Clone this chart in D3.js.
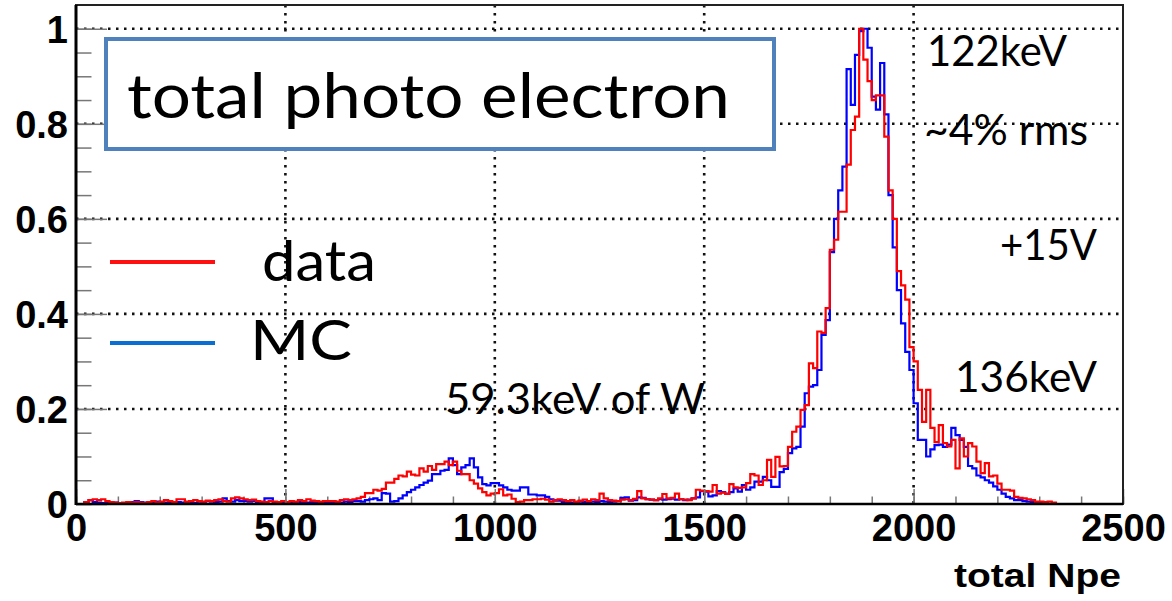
<!DOCTYPE html>
<html>
<head>
<meta charset="utf-8">
<script src="https://cdn.jsdelivr.net/npm/d3@7"></script>
<style>
  body { margin: 0; background: #fff; }
  svg { display: block; }
  .tick text { font-family: "Liberation Sans", Arial, sans-serif; font-weight: bold; fill: #000; }
  .note { font-family: Lato, "Open Sans", sans-serif; fill: #000; }
</style>
</head>
<body>
<div id="chart"></div>
<script>
// bin width of both histograms (total Npe)
var binWidth = 10;

// data (red), bins 0..2490
var dataCounts = [
  0,0,.004,.008,.01,.008,.01,.006,.004,.003, .002,.003,.004,.003,.004,.003,.002,.004,.006,.003,
  .005,.008,.006,.004,.01,.01,.005,.006,.008,.006, .005,.007,.006,.008,.01,.006,.005,.012,.014,.012,
  .01,.008,.009,.006,.005,.004,.006,.005,.004,.006, .004,.006,.005,.008,.006,.01,.007,.006,.005,.006,
  .006,.006,.005,.008,.01,.008,.01,.012,.015,.023, .023,.03,.028,.032,.045,.045,.053,.06,.058,.068,
  .062,.06,.075,.068,.08,.072,.084,.084,.089,.082, .089,.07,.063,.063,.05,.043,.033,.025,.018,.022,
  .023,.031,.018,.02,.011,.004,.005,.008,.008,.01, .01,.011,.009,.005,.008,.01,
  .008,.006,.008,.005,.007,.009,.006,.01,.008,.022, .012,.008,.007,.006,.009,.01,.008,.011,.027,.012,
  .01,.009,.008,.012,.021,.012,.013,.022,.01,.009, .008,.012,.03,.028,.027,.026,.04,.022,.024,.021,
  .042,.035,.034,.035,.044,.063,.06,.04,
  .05,.093,.057,.099,.079,.08,.12,.152,.163,.198, .208,.296,.286,.363,.36,.412,
  .535,.556,.615,.615,.714,.787,.815,1.0,.935,.89, .85,.86,.86,.773,.66,.60,.49,
  .46,.43,.33,.30,.24,.173,.24,.16,.13,.166, .128,.121,.135,.075,.138,.1,.128,.121,.089,.065,
  .086,.058,.06,.043,.03,.03,.028,.015,.013,.012, .01,.008,.005,.005,.004,.005,.003,0,
  0,0,0,0,0,0,0,0,0,0,0,0,0,0,0
];

// MC (blue), bins 0..2490
var mcCounts = [
  0,0,.004,.008,.004,.003,.002,.002,.002,.003, .002,.002,.002,.004,.006,.004,.003,.002,.004,.005,
  .002,.003,.002,.003,.004,.003,.004,.003,.002,.005, .004,.006,.005,.004,.005,.012,.006,.005,.008,.006,
  .006,.005,.006,.004,.003,.012,.012,.004,.003,.002, .003,.004,.003,.004,.003,.003,.004,.003,.004,.003,
  .004,.003,.004,.003,.005,.004,.006,.006,.005,.008, .01,.012,.008,.023,.022,.005,.006,.012,.018,.025,
  .03,.035,.04,.045,.049,.063,.063,.07,.072,.096, .082,.063,.077,.082,.096,.077,.056,.042,.039,.044,
  .044,.039,.035,.03,.028,.028,.035,.035,.02,.02, .018,.018,.015,.01,.007,.007,
  .004,.004,.003,.004,.005,.004,.004,.005,.004,.006, .005,.004,.005,.006,.013,.014,.007,.008,.014,.013,
  .01,.009,.008,.01,.009,.01,.011,.009,.01,.008, .009,.012,.014,.027,.026,.016,.018,.027,.025,.022,
  .025,.033,.026,.04,.03,.035,.047,.047,
  .057,.05,.036,.036,.067,.074,.107,.117,.12,.163, .233,.247,.25,.282,.356,.387,
  .53,.6,.66,.71,.915,.84,.945,.995,1.0,.96, .857,.83,.928,.82,.65,.54,.45,
  .38,.32,.282,.212,.135,.135,.10,.115,.124,.125, .12,.125,.16,.145,.135,.12,.08,.075,.06,.056,
  .05,.045,.037,.03,.022,.015,.012,.008,.008,.006, .005,.004,.004,.003,.002,0,0,0,
  0,0,0,0,0,0,0,0,0,0,0,0,0,0,0
];

var xTicks = [0, 500, 1000, 1500, 2000, 2500];
var xTickLabels = ["0", "500", "1000", "1500", "2000", "2500"];
var yTicks = [0, 0.2, 0.4, 0.6, 0.8, 1];
var yTickLabels = ["0", "0.2", "0.4", "0.6", "0.8", "1"];
var xTitle = "total Npe";

var W = 1172, H = 601;
var frame = {x0: 76, x1: 1123, y0: 5, y1: 504};

var svg = d3.select("#chart").append("svg")
  .attr("width", W)
  .attr("height", H);

var x = d3.scaleLinear().domain([0, 2500]).range([frame.x0, frame.x1]);
var y = d3.scaleLinear().domain([0, 1.05]).range([frame.y1, frame.y0]);

// dotted grid
var grid = svg.append("g").attr("class", "grid")
  .attr("stroke", "#111").attr("stroke-width", 2.6).attr("stroke-dasharray", "2.5,5.5");
grid.selectAll("line.gx").data(xTicks.slice(1, -1)).enter().append("line")
  .attr("x1", d => x(d)).attr("x2", d => x(d))
  .attr("y1", frame.y0).attr("y2", frame.y1);
grid.selectAll("line.gy").data(yTicks.slice(1)).enter().append("line")
  .attr("x1", frame.x0).attr("x2", frame.x1)
  .attr("y1", d => y(d)).attr("y2", d => y(d));

// minor ticks
svg.append("g")
  .attr("transform", "translate(0," + frame.y1 + ")")
  .call(d3.axisBottom(x).tickValues(d3.range(0, 2501, 100)).tickSize(-7.5).tickFormat(""))
  .call(g => g.select(".domain").remove())
  .call(g => g.selectAll(".tick line").attr("stroke", "#777").attr("stroke-width", 1.5));
svg.append("g")
  .attr("transform", "translate(" + frame.x0 + ",0)")
  .call(d3.axisLeft(y).tickValues(d3.range(0, 21).map(i => i * 0.05)).tickSize(-15.5).tickFormat(""))
  .call(g => g.select(".domain").remove())
  .call(g => g.selectAll(".tick line").attr("stroke", "#777").attr("stroke-width", 1.5));

// histograms
function steps(vals) {
  var pts = vals.map((v, i) => [i * binWidth, v]);
  pts.push([vals.length * binWidth, vals[vals.length - 1]]);
  return pts;
}
var line = d3.line()
  .x(d => x(d[0]))
  .y(d => y(d[1]))
  .curve(d3.curveStepAfter);

svg.append("path")
  .datum(steps(mcCounts))
  .attr("fill", "none")
  .attr("stroke", "#0000ff")
  .attr("stroke-width", 2.2)
  .attr("d", line);
svg.append("path")
  .datum(steps(dataCounts))
  .attr("fill", "none")
  .attr("stroke", "#ff0000")
  .attr("stroke-width", 2.2)
  .attr("d", line);

// major ticks + labels
var xAxis = svg.append("g")
  .attr("transform", "translate(0," + frame.y1 + ")")
  .call(d3.axisBottom(x).tickValues(xTicks).tickSize(-15).tickPadding(10)
    .tickFormat((d, i) => xTickLabels[i]));
xAxis.select(".domain").remove();
xAxis.selectAll(".tick line").attr("stroke", "#777").attr("stroke-width", 1.5);
xAxis.selectAll(".tick text").attr("font-size", 38);

var yAxis = svg.append("g")
  .attr("transform", "translate(" + frame.x0 + ",0)")
  .call(d3.axisLeft(y).tickValues(yTicks).tickSize(-31).tickPadding(8)
    .tickFormat((d, i) => yTickLabels[i]));
yAxis.select(".domain").remove();
yAxis.selectAll(".tick line").attr("stroke", "#777").attr("stroke-width", 1.5);
yAxis.selectAll(".tick text").attr("font-size", 38).attr("dy", "0.36em");

// frame
svg.append("rect")
  .attr("x", frame.x0).attr("y", frame.y0)
  .attr("width", frame.x1 - frame.x0).attr("height", frame.y1 - frame.y0)
  .attr("fill", "none").attr("stroke", "#222").attr("stroke-width", 2);
svg.append("line")
  .attr("x1", frame.x0).attr("x2", frame.x0).attr("y1", frame.y0).attr("y2", frame.y1 + 1)
  .attr("stroke", "#000").attr("stroke-width", 3);
svg.append("line")
  .attr("x1", frame.x0).attr("x2", frame.x1).attr("y1", frame.y1).attr("y2", frame.y1)
  .attr("stroke", "#000").attr("stroke-width", 2.5);

// axis title
svg.append("text")
  .attr("x", 1121).attr("y", 587)
  .attr("text-anchor", "end")
  .attr("font-family", "'Liberation Sans', Arial, sans-serif")
  .attr("font-weight", "bold")
  .attr("font-size", 33)
  .attr("textLength", 167)
  .attr("lengthAdjust", "spacingAndGlyphs")
  .text(xTitle);

// title box
svg.append("rect")
  .attr("x", 106).attr("y", 39).attr("width", 668).attr("height", 110)
  .attr("fill", "#fff").attr("stroke", "#4f81bd").attr("stroke-width", 4);
svg.append("text").attr("class", "note")
  .attr("x", 127).attr("y", 118).attr("font-size", 62)
  .attr("textLength", 603).attr("lengthAdjust", "spacingAndGlyphs")
  .text("total photo electron");

// legend
svg.append("line").attr("x1", 110).attr("x2", 215).attr("y1", 262).attr("y2", 262)
  .attr("stroke", "#ff1010").attr("stroke-width", 4);
svg.append("line").attr("x1", 110).attr("x2", 215).attr("y1", 343).attr("y2", 343)
  .attr("stroke", "#0a6fd0").attr("stroke-width", 4);
svg.append("text").attr("class", "note")
  .attr("x", 262).attr("y", 281).attr("font-size", 57)
  .attr("textLength", 114).attr("lengthAdjust", "spacingAndGlyphs")
  .text("data");
svg.append("text").attr("class", "note")
  .attr("x", 250).attr("y", 360).attr("font-size", 57)
  .attr("textLength", 102).attr("lengthAdjust", "spacingAndGlyphs")
  .text("MC");

// annotations
var notes = [
  { t: "122keV", x: 927, y: 66, w: 140 },
  { t: "~4% rms", x: 924, y: 145, w: 164 },
  { t: "+15V", x: 1000, y: 260, w: 97 },
  { t: "136keV", x: 955, y: 392, w: 142 },
  { t: "59.3keV of W", x: 445, y: 414, w: 260 }
];
svg.selectAll("text.ann").data(notes).enter().append("text")
  .attr("class", "note ann")
  .attr("x", d => d.x).attr("y", d => d.y)
  .attr("font-size", 43)
  .attr("textLength", d => d.w).attr("lengthAdjust", "spacingAndGlyphs")
  .text(d => d.t);
</script>
</body>
</html>
